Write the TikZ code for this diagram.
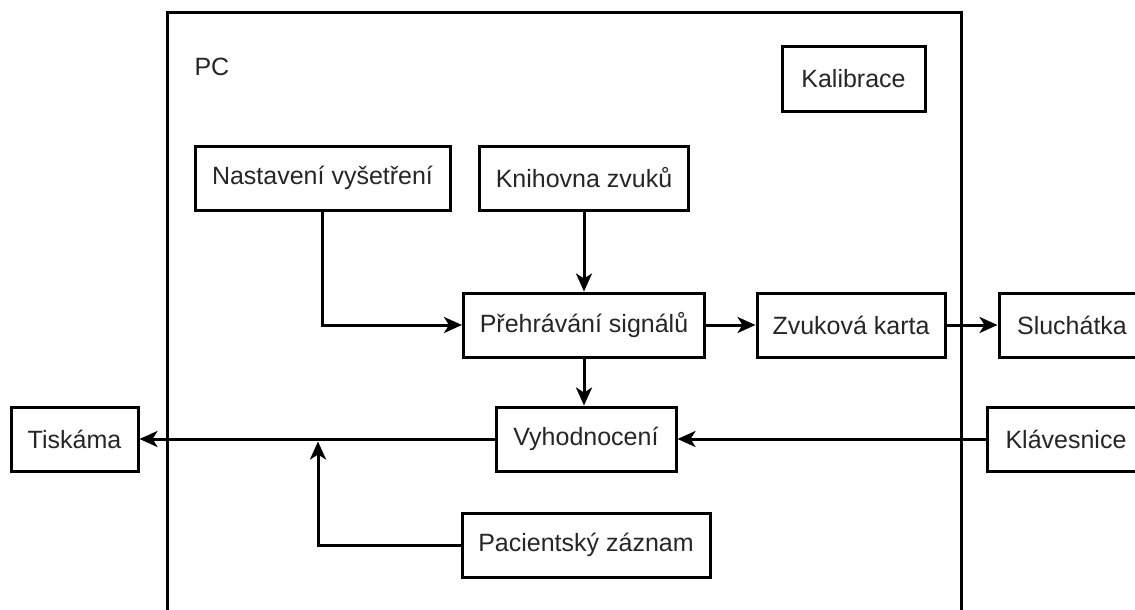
\documentclass[tikz,border=0pt]{standalone}
\usepackage{fontspec}
\setmainfont{Liberation Sans}
\usetikzlibrary{arrows.meta}
\begin{document}
\begin{tikzpicture}[x=1pt,y=-1pt,
  blk/.style={draw=black, line width=3pt, minimum height=64pt, inner sep=0pt, text=black!85, font=\fontsize{25}{29}\selectfont},
  conn/.style={line width=3pt, -{Stealth[length=18pt,width=16pt,inset=5pt]}},
  plain/.style={line width=3pt}
]
\useasboundingbox (0,0) rectangle (1135,610);
\fill[white] (0,0) rectangle (1135,610);
% PC frame (bottom cut off)
\draw[plain] (167,615) -- (167,13) -- (961,13) -- (961,615);
\node[anchor=west, text=black!85, font=\fontsize{25}{29}\selectfont] (pc) at (191,67) {PC};

\node[blk, minimum width=143pt] (kal) at (853.5,79) {Kalibrace};
\node[blk, minimum width=255pt] (nast) at (322.5,178) {Nastavení vyšetření};
\node[blk, minimum width=209pt] (knih) at (584,178) {Knihovna zvuků};
\node[blk, minimum width=241pt] (preh) at (584,325) {Přehrávání signálů};
\node[blk, minimum width=188pt] (zvuk) at (851,325) {Zvuková karta};
\node[blk, minimum width=146pt] (sluch) at (1072,325) {Sluchátka};
\node[blk, minimum width=180pt] (vyh) at (586,439) {Vyhodnocení};
\node[blk, minimum width=158pt] (klav) at (1066,439) {Klávesnice};
\node[blk, minimum width=127pt] (tisk) at (74.5,439) {Tiskáma};
\node[blk, minimum width=248pt] (pac) at (586,545) {Pacientský záznam};

\coordinate (j) at (318,440);

\draw[conn] (nast.south) |- (preh.west);
\draw[conn] (knih.south) -- (preh.north);
\draw[conn] (preh.east) -- (zvuk.west);
\draw[conn] (zvuk.east) -- (sluch.west);
\draw[conn] (preh.south) -- (preh.south |- vyh.north);
\draw[conn] (klav.west) -- (vyh.east);
\draw[conn] (vyh.west) -- (tisk.east);
\draw[conn, shorten >=1.5pt] (pac.west) -| (j);
\end{tikzpicture}
\end{document}
